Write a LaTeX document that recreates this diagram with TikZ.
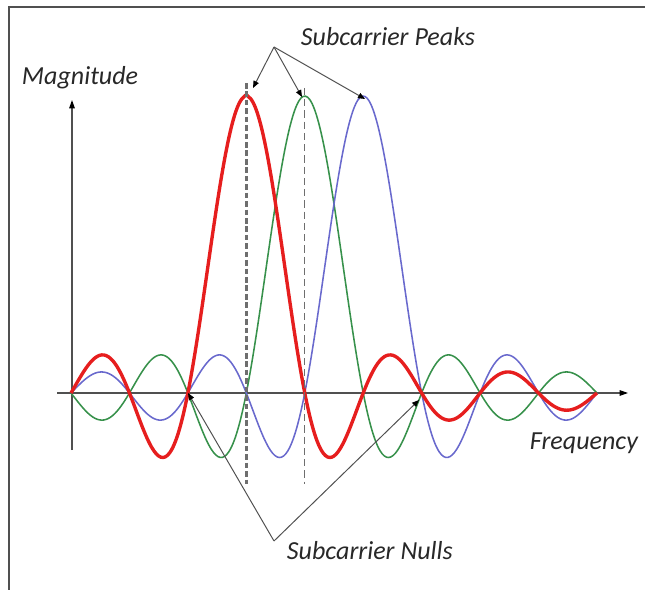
\documentclass[tikz,border=0pt]{standalone}
\usepackage{fontspec}
\setmainfont{Carlito}
\usepackage{tikz}
\usetikzlibrary{arrows.meta}
\definecolor{redcar}{RGB}{230,30,30}
\definecolor{greencar}{RGB}{55,145,75}
\definecolor{bluecar}{RGB}{105,105,205}
\definecolor{axcolor}{RGB}{80,80,80}
\definecolor{dashcolor}{RGB}{110,110,110}
\definecolor{txtcolor}{RGB}{40,40,40}
\begin{document}
\begin{tikzpicture}[x=0.025cm,y=-0.025cm,font=\fontsize{18.5}{22}\selectfont\itshape,text=txtcolor,
  arr/.style={-{Triangle[length=5pt,width=4pt,black]},draw=axcolor,line width=0.7pt},
  carrier/.style={line width=1.1pt,smooth},
  declare function={sinc(\t)=sin(180*(\t+0.0001))/(pi*(\t+0.0001));}]
\useasboundingbox (0,0) rectangle (645,590);
\draw[axcolor,line width=1.5pt](9,590)--(9,7)--(645,7);
% axes
\coordinate (xstart) at (57,393); \coordinate (xend) at (628,393);
\coordinate (ybot) at (72,450); \coordinate (ytop) at (72,100);
\draw[axcolor,line width=0.8pt,-{Triangle[length=6pt,width=4pt,black]}](xstart)--(xend);
\draw[axcolor,line width=0.8pt,-{Triangle[length=6pt,width=4pt,black]}](ybot)--(ytop);
% subcarriers, nulls 58.444 apart from x=71 to x=597
\draw[greencar,carrier] plot[domain=71:597,samples=241] (\x,{393-297*sinc((\x-71)/58.444-4)});
\draw[bluecar,carrier] plot[domain=71:597,samples=241] (\x,{393-297*sinc((\x-71)/58.444-5)});
\draw[redcar,carrier,line width=2.4pt] plot[domain=71:597,samples=241] (\x,{393-297*sinc((\x-71)/58.444-3)});
\draw[dashcolor,line width=2pt,dash pattern=on 4pt off 2pt](246.3,83)--(246.3,484);
\draw[dashcolor,line width=0.8pt,dash pattern=on 5pt off 3pt](304.2,88)--(304.2,484);
% labels
\node[anchor=west] (mag) at (17,78) {Magnitude};
\node[anchor=west] (freq) at (525,443) {Frequency};
\node[anchor=west] (peaks) at (296,37) {Subcarrier Peaks};
\node[anchor=west] (nulls) at (282,551) {Subcarrier Nulls};
% pointers
\coordinate (pk) at (274,47); \coordinate (rtop) at (253,88);
\coordinate (gtop) at (302,97); \coordinate (btop) at (365,99);
\draw[arr](pk)--(rtop); \draw[arr](pk)--(gtop); \draw[arr](pk)--(btop);
\coordinate (nl) at (274,541); \coordinate (null1) at (188,393); \coordinate (null2) at (419,400);
\draw[arr](nl)--(null1); \draw[arr](nl)--(null2);
\end{tikzpicture}
\end{document}
